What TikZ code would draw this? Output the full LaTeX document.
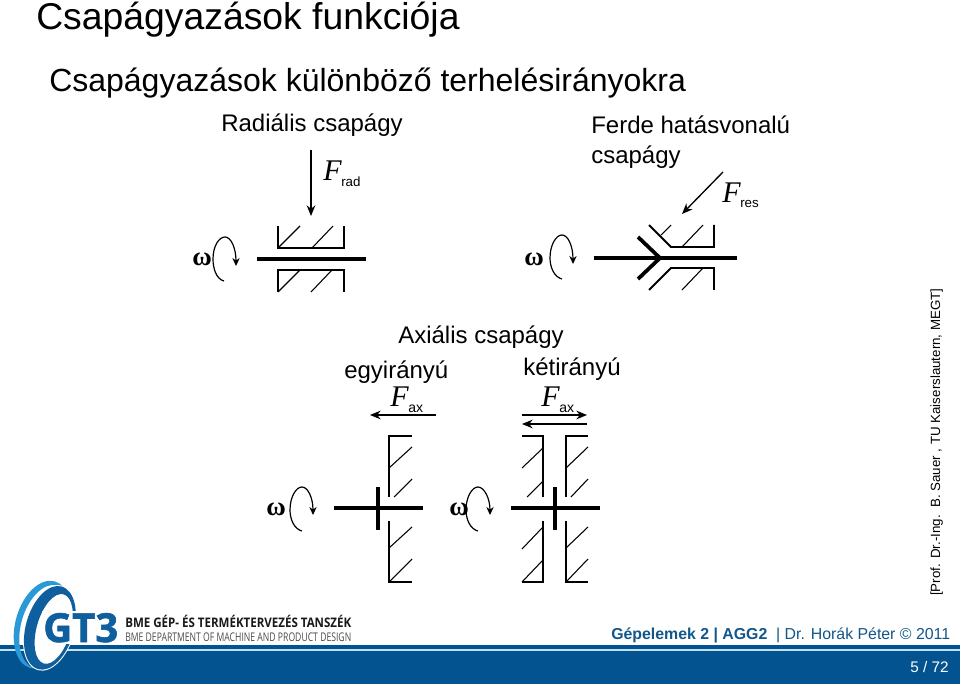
\documentclass[tikz,border=0pt]{standalone}
\usepackage{fontspec}
\usepackage{graphicx}
\setmainfont{Liberation Sans}
\newfontfamily\serifit{Liberation Serif}[ItalicFont=* Italic]
\newfontfamily\logofont{Open Sans}
\newfontfamily\gtfont{Open Sans}[BoldFeatures={FakeBold=1.5}]
\definecolor{bandblue}{HTML}{02538F}
\definecolor{ringlight}{HTML}{2A9AD6}
\definecolor{ringdark}{HTML}{0F5F9E}
\definecolor{footblue}{HTML}{11578A}
\usetikzlibrary{arrows.meta}
\tikzset{
 x=0.75pt,y=-0.75pt,
 txt/.style={inner sep=0pt,anchor=base west,text=black},
 hous/.style={line width=1.35pt,line cap=butt,line join=miter},
 hatchl/.style={line width=0.8pt},
 shaft/.style={line width=2.6pt},
 force/.style={line width=1pt,-{Stealth[length=8pt,width=6.5pt]}},
 spin/.style={line width=0.9pt,-{Stealth[length=6pt,width=5.5pt]}},
}
\newcommand{\fs}[1]{\fontsize{#1}{#1}\selectfont}
\newcommand{\om}{\fs{20}\serifit\bfseries ω}
\begin{document}
\begin{tikzpicture}
\useasboundingbox (0,0) rectangle (960,684);
\fill[white] (0,0) rectangle (960,684);
% texts
\node[txt] (title) at (36,30) {\fs{28}Csapágyazások funkciója};
\node[txt] (sub) at (49,92) {\fs{24}Csapágyazások különböző terhelésirányokra};
\node[txt] (rad) at (221,132) {\fs{18}Radiális csapágy};
\node[txt] (fer1) at (591,134) {\fs{18}Ferde hatásvonalú};
\node[txt] (fer2) at (591,164) {\fs{18}csapágy};
\node[txt] (axi) at (398,343) {\fs{18}Axiális csapágy};
\node[txt] (egy) at (344,378) {\fs{18}egyirányú};
\node[txt] (ket) at (523,375) {\fs{18}kétirányú};
\node[txt,rotate=90] (prof) at (940,596) {\fs{10}[Prof. Dr.-Ing.\ \ B. Sauer , TU Kaiserslautern, MEGT]};
% labels
\node[txt] (frad) at (323,181) {\fs{22.5}\serifit\itshape F};
\node[txt] (fradi) at (341,187) {\fs{10}rad};
\node[txt] (fres) at (722,203) {\fs{22.5}\serifit\itshape F};
\node[txt] (fresi) at (740,208) {\fs{10}res};
\node[txt] (fax1) at (390,406) {\fs{22.5}\serifit\itshape F};
\node[txt] (fax1i) at (408,412) {\fs{10.5}ax};
\node[txt] (fax2) at (541,406) {\fs{22.5}\serifit\itshape F};
\node[txt] (fax2i) at (559,412) {\fs{10.5}ax};
% omegas
\node[txt] (w1) at (192,266) {\om};
\node[txt] (w2) at (524,266) {\om};
\node[txt] (w3) at (266,515) {\om};
\node[txt] (w4) at (449,515) {\om};
% spins
\draw[spin] (224,281) .. controls (216,279) and (213,268) .. (213,259) .. controls (213,246) and (219,237) .. (225,237) .. controls (231,237) and (236,248) .. (236,266);
\draw[spin] (562,279) .. controls (554,277) and (550,267) .. (550,258) .. controls (550,245) and (556,235) .. (562,235) .. controls (568,235) and (573,246) .. (573,264);
\draw[spin] (302,531) .. controls (294,529) and (290,519) .. (290,510) .. controls (290,497) and (296,487) .. (302,487) .. controls (308,487) and (313,498) .. (313,515);
\draw[spin] (478,531) .. controls (470,529) and (466,519) .. (466,510) .. controls (466,497) and (472,487) .. (478,487) .. controls (484,487) and (490,498) .. (490,515);
% forces
\coordinate (a1s) at (311,150); \coordinate (a1e) at (311,216);
\draw[force] (a1s) -- (a1e);
\coordinate (a2s) at (723,172); \coordinate (a2e) at (682,214);
\draw[force] (a2s) -- (a2e);
\coordinate (a3s) at (436,415); \coordinate (a3e) at (370,415);
\draw[force] (a3s) -- (a3e);
\coordinate (a4s) at (522,415); \coordinate (a4e) at (587,415);
\draw[force] (a4s) -- (a4e);
\coordinate (a5s) at (587,424); \coordinate (a5e) at (522,424);
\draw[force] (a5s) -- (a5e);
% radial
\draw[shaft] (257,259) -- (366,259);
\draw[hous] (278,226) -- (278,248) -- (344,248) -- (344,226);
\draw[hous] (278,292) -- (278,270) -- (344,270) -- (344,292);
\draw[hatchl] (278,248) -- (300,226) (312,248) -- (333,226) (278,292) -- (300,270) (311,292) -- (332,270);
% oblique
\draw[shaft] (594,258) -- (737,258);
\draw[line width=2.8pt,line join=miter] (638,237) -- (660,258) -- (638,279);
\draw[hous] (649,225) -- (671,247) -- (714,247) -- (714,225);
\draw[hous] (649,290) -- (671,268) -- (714,268) -- (714,290);
\draw[hatchl] (661,235) -- (671,225) (682,247) -- (703,225) (682,290) -- (703,268);
% axial 1
\draw[line width=2.5pt] (334,508) -- (423,508);
\draw[line width=2.5pt] (378,487) -- (378,530);
\draw[hous] (412,436) -- (389,436) -- (389,497);
\draw[hous] (389,521) -- (389,582) -- (412,582);
\draw[hatchl] (389,468) -- (412,447) (394,497) -- (412,479) (389,548) -- (412,527) (389,582) -- (412,559);
% axial 2
\draw[line width=2.5pt] (511,508) -- (600,508);
\draw[line width=2.5pt] (555,487) -- (555,530);
\draw[hous] (522,436) -- (543,436) -- (543,497);
\draw[hous] (543,521) -- (543,582) -- (522,582);
\draw[hous] (588,436) -- (566,436) -- (566,497);
\draw[hous] (566,521) -- (566,582) -- (588,582);
\draw[hatchl] (522,468) -- (543,448) (527,497) -- (543,481) (522,549) -- (543,527) (522,582) -- (543,560);
\draw[hatchl] (566,468) -- (588,447) (571,497) -- (588,479) (566,548) -- (588,527) (566,582) -- (588,559);
% footer band
\fill[bandblue] (0,644.5) rectangle (960,648.5);
\fill[white!70!ringlight] (0,648.5) rectangle (960,651);
\fill[bandblue] (0,651) rectangle (960,684);
% logo rings
\begin{scope}[shift={(47,627)},rotate=-16]
\fill[ringlight,even odd rule] (-5,-1) ellipse [x radius=27,y radius=45] (-1,0) ellipse [x radius=25,y radius=43];
\fill[white] (3,0) ellipse [x radius=25,y radius=44];
\fill[ringdark,even odd rule] (3,0) ellipse [x radius=24,y radius=43] (7,0) ellipse [x radius=17,y radius=36];
\end{scope}
\fill[white] (42,611) rectangle (118,644);
\node[txt] (gt3) at (43,642) {\fs{30}\gtfont\bfseries\textcolor{ringdark}{GT3}};
\node[txt] (dep1) at (125,627) {\logofont\bfseries\textcolor{black!90}{\resizebox{169.5pt}{9.2pt}{BME GÉP- ÉS TERMÉKTERVEZÉS TANSZÉK}}};
\node[txt] (dep2) at (125,641) {\logofont\textcolor{black!70}{\resizebox{169.5pt}{6.5pt}{BME DEPARTMENT OF MACHINE AND PRODUCT DESIGN}}};
% footer text
\node[txt] (foot) at (611,639) {\fs{11.9}\textcolor{footblue}{\textbf{Gépelemek 2 | AGG2} \ | Dr. Horák Péter © 2011}};
\node[txt] (page) at (910,672) {\fs{11.5}\textcolor{white}{5 / 72}};
\end{tikzpicture}
\end{document}
